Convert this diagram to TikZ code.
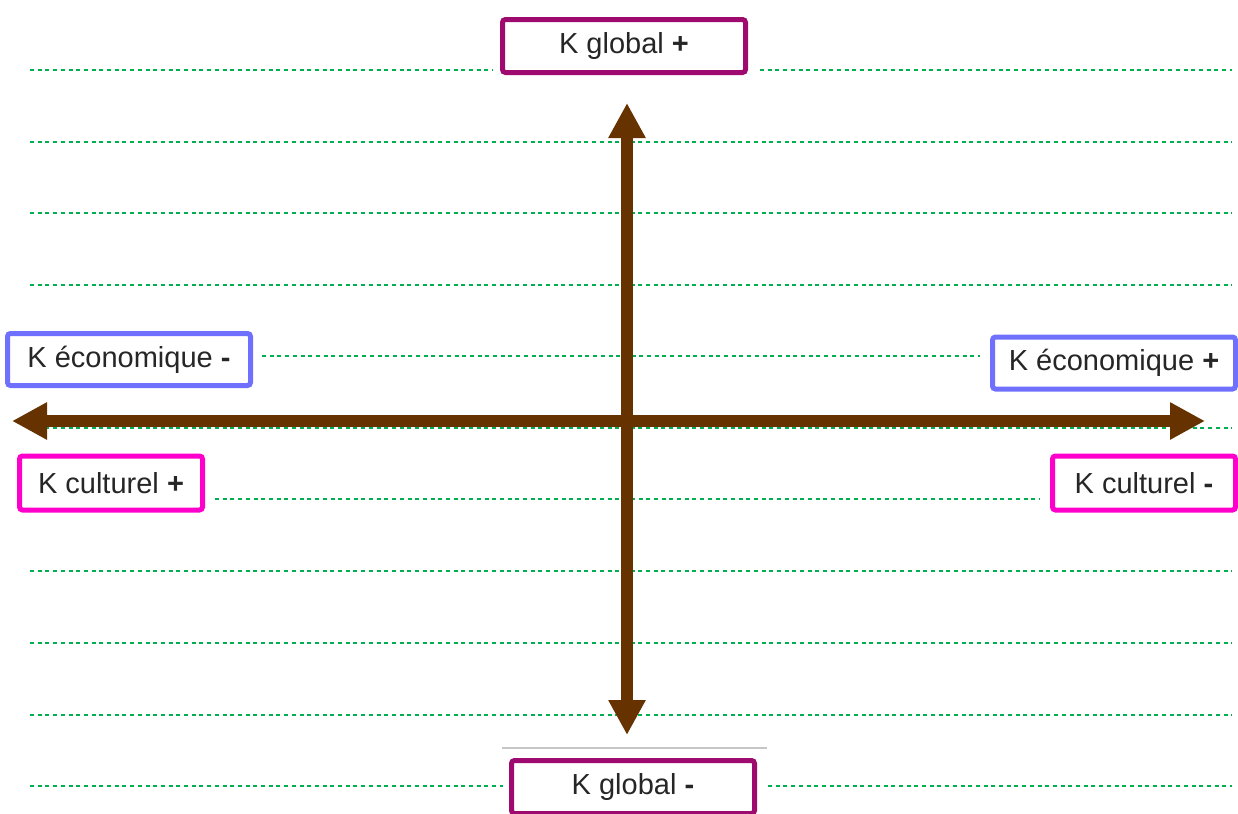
\documentclass[tikz,border=0pt]{standalone}
\usepackage{fontspec}
\setmainfont{Liberation Sans}
\usetikzlibrary{arrows.meta}
\definecolor{grn}{RGB}{0,176,80}
\definecolor{brn}{RGB}{102,51,0}
\definecolor{purp}{RGB}{158,10,110}
\definecolor{blu}{RGB}{112,112,255}
\definecolor{mag}{RGB}{255,0,204}
\begin{document}
\begin{tikzpicture}[x=0.5pt,y=-0.5pt,
  guide/.style={grn, line width=1pt, dash pattern=on 2pt off 1.85pt},
  axis/.style={brn, line width=6pt, {Triangle[length=17.5pt,width=17.5pt]}-{Triangle[length=17.5pt,width=17.5pt]}},
  lbl/.style={line width=2.5pt, rounded corners=1.5pt, fill=white, inner sep=0pt,
    font=\fontsize{14.5}{17}\selectfont, text=black!85},
  glob/.style={lbl, draw=purp, minimum width=121.5pt, minimum height=26.5pt},
  eco/.style={lbl, draw=blu, minimum width=121.5pt, minimum height=26pt},
  cult/.style={lbl, draw=mag, minimum width=91.5pt, minimum height=27pt}
]
\useasboundingbox (0,0) rectangle (1238,814);
% guide lines
\draw[guide] (30,70) -- (493,70);
\draw[guide] (760,70) -- (1232,70);
\foreach \y in {142,213,285,571,643,715}{\draw[guide] (30,\y) -- (1232,\y);}
\draw[guide] (262,356) -- (980,356);
\draw[guide] (30,428) -- (1232,428);
\draw[guide] (215,499) -- (1040,499);
\draw[guide] (30,786) -- (503,786);
\draw[guide] (768,786) -- (1232,786);
\draw[gray!45, line width=0.8pt] (502,748) -- (767,748);
% axes
\coordinate (top) at (627,103);
\coordinate (bot) at (627,735);
\coordinate (lft) at (12,421);
\coordinate (rgt) at (1205,421);
\draw[axis] (lft) -- (rgt);
\draw[axis] (bot) -- (top);
% labels
\node[glob] (gplus) at (624,46) {K global \textbf{+}};
\node[glob] (gminus) at (633,787) {K global \textbf{-}};
\node[eco] (eminus) at (129,359.5) {K économique \textbf{-}};
\node[eco] (eplus) at (1114,363) {K économique \textbf{+}};
\node[cult] (cplus) at (111,483) {K culturel \textbf{+}};
\node[cult] (cminus) at (1144,483) {K culturel \textbf{-}};
\end{tikzpicture}
\end{document}
